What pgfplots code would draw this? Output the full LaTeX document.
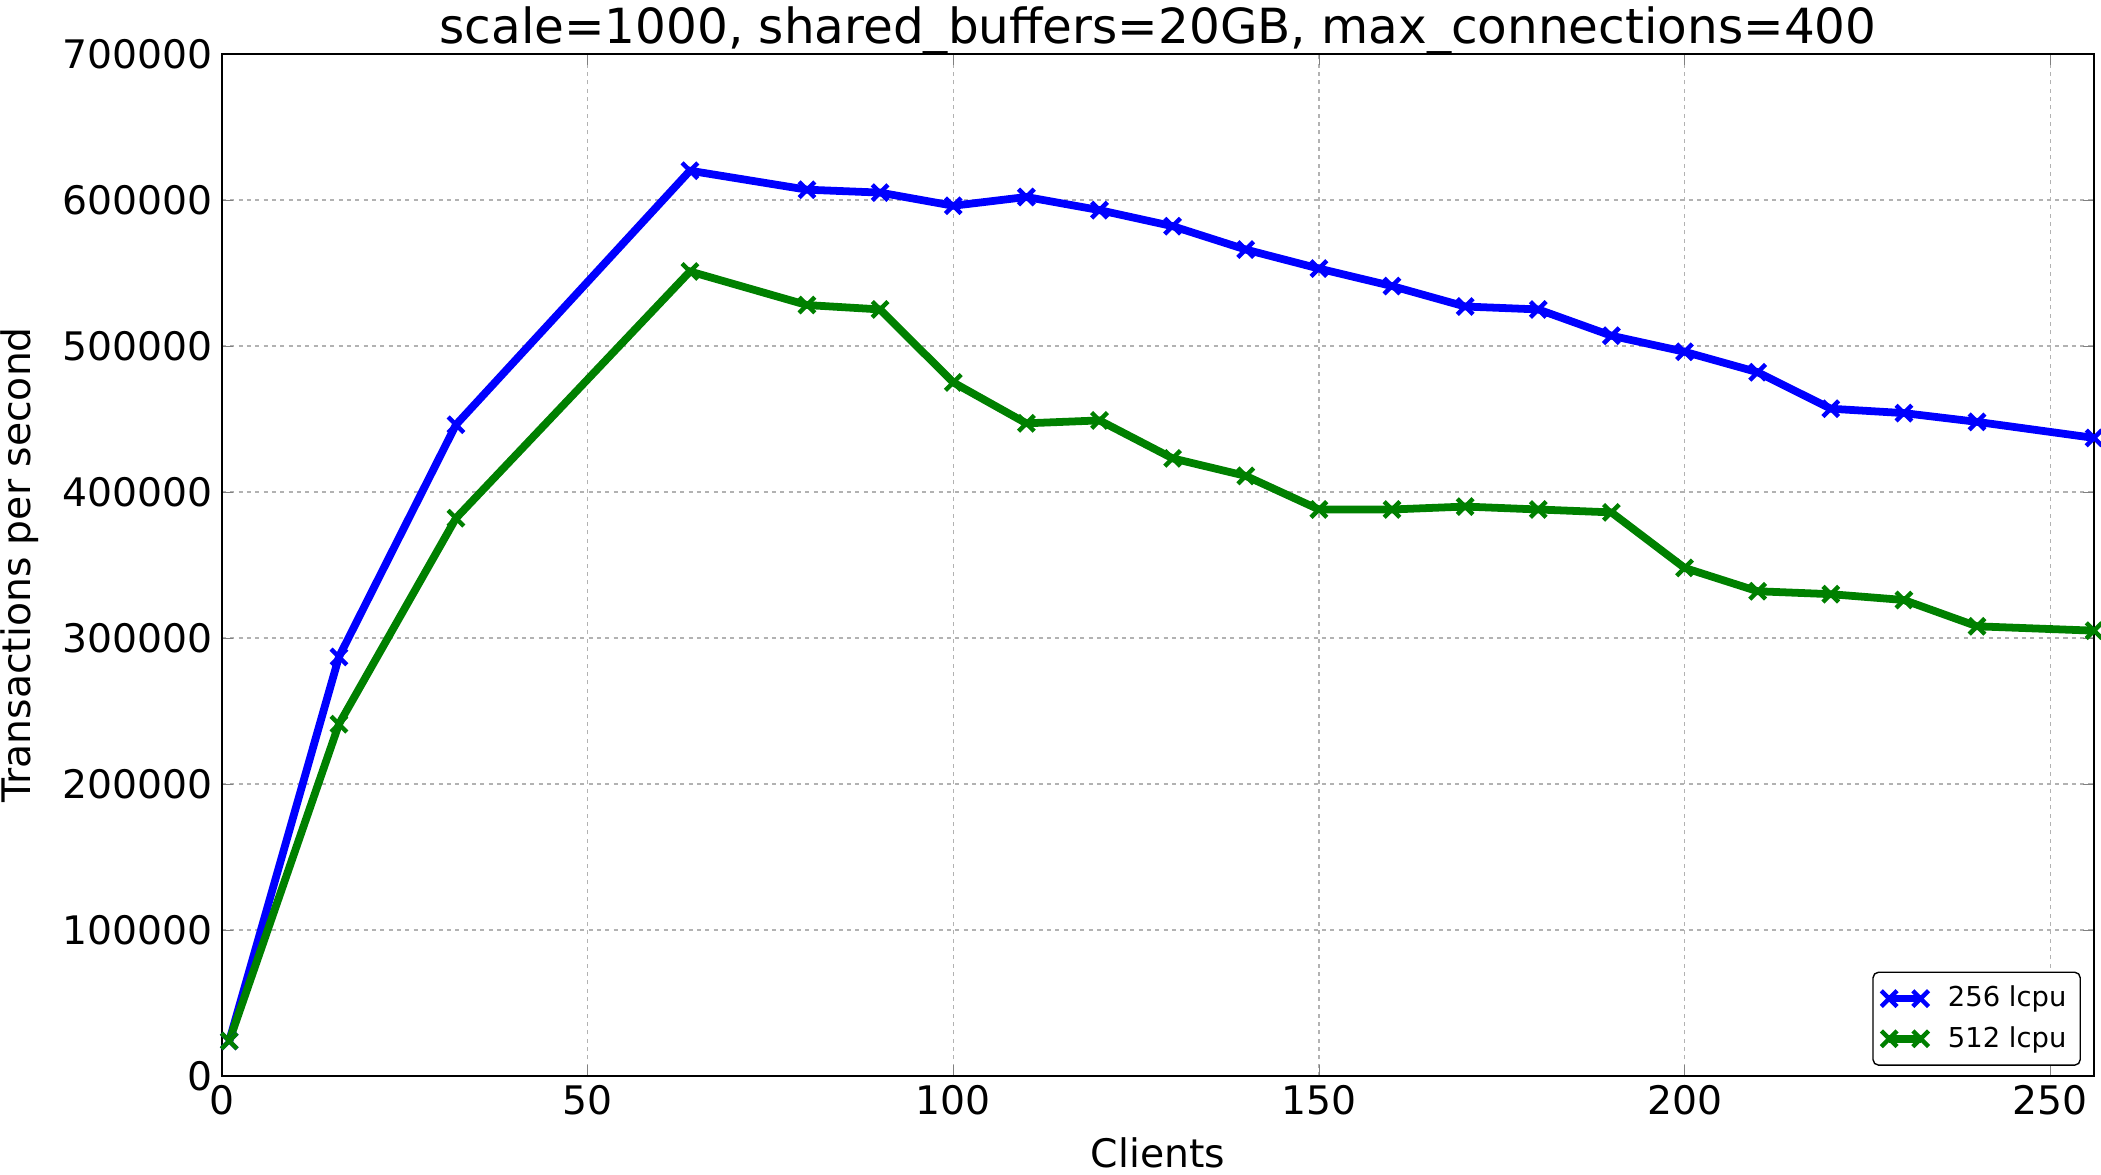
\documentclass[border=0pt]{standalone}
\usepackage{fontspec}
\setmainfont{DejaVu Sans}
\usepackage{pgfplots}
\pgfplotsset{compat=1.18}
\definecolor{mplgreen}{RGB}{0,128,0}
\begin{document}
\begin{tikzpicture}
\begin{axis}[
  name=ax,
  scale only axis,
  width=674bp, height=368bp,
  xmin=0, xmax=256, ymin=0, ymax=700000,
  xtick={0,50,100,150,200,250},
  ytick={0,100000,200000,300000,400000,500000,600000,700000},
  scaled y ticks=false,
  /pgf/number format/fixed,
  /pgf/number format/1000 sep={},
  /pgf/number format/assume math mode=true,
  tick label style={font=\fontsize{14.2}{17}\selectfont},
  label style={font=\fontsize{14.2}{17}\selectfont},
  title style={font=\fontsize{17.5}{21}\selectfont, yshift=-10bp},
  title={scale=1000, shared\textunderscore buffers=20GB, max\textunderscore connections=400},
  xlabel={Clients}, ylabel={Transactions per second},
  xlabel style={yshift=-1bp},
  ylabel style={yshift=1.5bp},
  tick align=inside, tick pos=both,
  major tick length=4bp,
  grid=major,
  grid style={gray!60, dash pattern=on 1.5bp off 1.5bp, line width=0.5bp},
  axis line style={line width=0.6bp},
  legend style={font=\fontsize{9.9}{12}\selectfont, rounded corners=2bp, draw=black, line width=0.5bp, at={(0.993,0.01)}, anchor=south east, row sep=1.5bp, inner sep=3bp,
    /tikz/every odd column/.append style={column sep=5bp}},
  legend cell align=left,
  legend image code/.code={
    \draw[#1] plot coordinates {(0cm,0cm) (0.4cm,0cm)};
  },
  clip=false,
]
\addplot[blue, line width=2.8bp, mark=x, mark size=4bp, mark options={line width=1.6bp}] coordinates {
(1,24000) (16,287000) (32,446000) (64,620000) (80,607000) (90,605000)
(100,596000) (110,602000) (120,593000) (130,582000) (140,566000) (150,553000)
(160,541000) (170,527000) (180,525000) (190,507000) (200,496000) (210,482000)
(220,457000) (230,454000) (240,448000) (256,437000)
};
\addlegendentry{256 lcpu}
\addplot[mplgreen, line width=2.8bp, mark=x, mark size=4bp, mark options={line width=1.6bp}] coordinates {
(1,24000) (16,241000) (32,382000) (64,551000) (80,528000) (90,525000)
(100,475000) (110,447000) (120,449000) (130,423000) (140,411000) (150,388000)
(160,388000) (170,390000) (180,388000) (190,386000) (200,348000) (210,332000)
(220,330000) (230,326000) (240,308000) (256,305000)
};
\addlegendentry{512 lcpu}
\end{axis}
\pgfresetboundingbox
\useasboundingbox ([shift={(-79.9bp,-35.6bp)}]ax.south west) rectangle ++(756.4bp,423bp);
\end{tikzpicture}
\end{document}
